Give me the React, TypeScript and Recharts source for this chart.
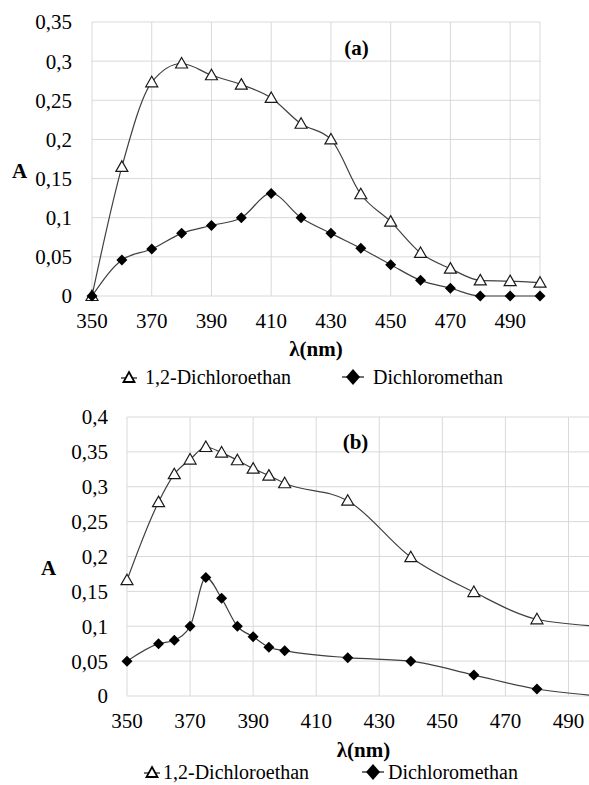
import { LineChart, Line, XAxis, YAxis, CartesianGrid, Legend } from 'recharts'

// (a) sampling every 10 nm
const wavelengthA = [350, 360, 370, 380, 390, 400, 410, 420, 430, 440, 450, 460, 470, 480, 490, 500]
const dceA = [0, 0.165, 0.273, 0.297, 0.282, 0.27, 0.253, 0.22, 0.2, 0.13, 0.095, 0.055, 0.035, 0.02, 0.019, 0.017]
const dcmA = [0, 0.046, 0.06, 0.08, 0.09, 0.1, 0.131, 0.1, 0.08, 0.061, 0.04, 0.02, 0.01, 0, 0, 0]

// (b) denser around the peak
const wavelengthB = [350, 360, 365, 370, 375, 380, 385, 390, 395, 400, 420, 440, 460, 480, 500]
const dceB = [0.166, 0.278, 0.318, 0.339, 0.357, 0.349, 0.338, 0.326, 0.316, 0.305, 0.28, 0.199, 0.149, 0.11, 0.1]
const dcmB = [0.05, 0.075, 0.08, 0.1, 0.17, 0.14, 0.1, 0.085, 0.07, 0.065, 0.055, 0.05, 0.03, 0.01, 0]

const xTicks = [350, 370, 390, 410, 430, 450, 470, 490]
const yTicksA = [0, 0.05, 0.1, 0.15, 0.2, 0.25, 0.3, 0.35]
const yTicksB = [0, 0.05, 0.1, 0.15, 0.2, 0.25, 0.3, 0.35, 0.4]

const DCE = '1,2-Dichloroethan'
const DCM = 'Dichloromethan'

const serif = '"Liberation Serif", Tinos, "Times New Roman", "Nimbus Roman", "DejaVu Serif", serif'
const lineColor = '#404040'
const tick = { fill: '#000', fontSize: 21, fontFamily: serif }
const fmt = (v: number) => String(v).replace('.', ',')

const rows = (xs: number[], a: number[], b: number[]) =>
  xs.map((x, i) => ({ x, [DCE]: a[i], [DCM]: b[i] }))

const Triangle = (p: any) => {
  const { cx, cy, index } = p
  if (cx == null || cy == null) return <g key={index} />
  return (
    <path
      key={index}
      d={`M${cx},${cy - 6} L${cx + 6},${cy + 4.5} L${cx - 6},${cy + 4.5} Z`}
      fill="#fff"
      stroke="#1a1a1a"
      strokeWidth={1.2}
    />
  )
}

const Diamond = (p: any) => {
  const { cx, cy, index } = p
  if (cx == null || cy == null) return <g key={index} />
  return (
    <path
      key={index}
      d={`M${cx},${cy - 5.5} L${cx + 5.5},${cy} L${cx},${cy + 5.5} L${cx - 5.5},${cy} Z`}
      fill="#000"
    />
  )
}

function LegendRow({ h, top, tri, dia }: { h: number; top: number; tri: [number, number]; dia: [number, number] }) {
  const text = { position: 'absolute' as const, top, fontSize: 20, lineHeight: '18px', fontFamily: serif, color: '#000', whiteSpace: 'nowrap' as const }
  return (
    <div style={{ position: 'relative', height: h, width: 560 }}>
      <svg style={{ position: 'absolute', left: tri[0], top: top + 2 }} width={16} height={14}>
        <line x1={0} y1={8} x2={16} y2={8} stroke={lineColor} strokeWidth={1.5} />
        <path d="M8,2 L13.5,12 L2.5,12 Z" fill="#fff" stroke="#000" strokeWidth={1.8} />
      </svg>
      <span style={{ ...text, left: tri[1] }}>{DCE}</span>
      <svg style={{ position: 'absolute', left: dia[0], top: top - 1 }} width={22} height={20}>
        <line x1={0} y1={10} x2={22} y2={10} stroke={lineColor} strokeWidth={1.5} />
        <path d="M11,2 L18,10 L11,18 L4,10 Z" fill="#000" />
      </svg>
      <span style={{ ...text, left: dia[1] }}>{DCM}</span>
    </div>
  )
}

const bold = { fill: '#000', fontSize: 21, fontWeight: 700, fontFamily: serif }

export default function App() {
  const dataA = rows(wavelengthA, dceA, dcmA)
  const dataB = rows(wavelengthB, dceB, dcmB)
  const title = { position: 'absolute' as const, width: 100, textAlign: 'center' as const, fontFamily: serif, fontWeight: 700, fontSize: 21, lineHeight: '24px' }

  return (
    <div style={{ position: 'absolute', top: 0, left: 0, width: 589, height: 785, overflow: 'hidden', background: '#fff' }}>
      <div style={{ position: 'absolute', top: 0, left: 0 }}>
        <LineChart width={589} height={390} data={dataA} margin={{ top: 22, right: 49, left: 0, bottom: 0 }}>
          <CartesianGrid stroke="#d9d9d9" strokeWidth={1} />
          <XAxis
            dataKey="x" type="number" domain={[350, 500]} ticks={xTicks}
            axisLine={false} tickLine={false} tickSize={0} tickMargin={17} tick={tick} height={62}
            label={{ value: 'λ(nm)', position: 'insideBottom', offset: 2, style: bold }}
          />
          <YAxis
            domain={[0, 0.35]} ticks={yTicksA} tickFormatter={fmt}
            axisLine={false} tickLine={false} tickSize={0} tickMargin={20} tick={tick} width={92}
            label={{ value: 'A', position: 'insideLeft', offset: 12, dy: 12, style: bold }}
          />
          <Legend verticalAlign="bottom" content={() => <LegendRow h={32} top={10} tri={[121, 145]} dia={[342, 373]} />} />
          <Line dataKey={DCE} type="monotone" stroke={lineColor} strokeWidth={1.2} dot={Triangle} activeDot={false} isAnimationActive={false} />
          <Line dataKey={DCM} type="monotone" stroke={lineColor} strokeWidth={1.2} dot={Diamond} activeDot={false} isAnimationActive={false} />
        </LineChart>
      </div>
      <div style={{ ...title, left: 306.5, top: 36 }}>(a)</div>

      <div style={{ position: 'absolute', top: 390, left: 0 }}>
        <LineChart width={620} height={394} data={dataB} margin={{ top: 27, right: 20, left: 0, bottom: 0 }}>
          <CartesianGrid stroke="#d9d9d9" strokeWidth={1} />
          <XAxis
            dataKey="x" type="number" domain={[350, 500]} ticks={xTicks}
            axisLine={false} tickLine={false} tickSize={0} tickMargin={17} tick={tick} height={64}
            label={{ value: 'λ(nm)', position: 'insideBottom', offset: 3, style: bold }}
          />
          <YAxis
            domain={[0, 0.4]} ticks={yTicksB} tickFormatter={fmt}
            axisLine={false} tickLine={false} tickSize={0} tickMargin={19} tick={tick} width={127}
            label={{ value: 'A', position: 'insideLeft', offset: 41, dy: 11, style: bold }}
          />
          <Legend verticalAlign="bottom" content={() => <LegendRow h={24} top={3} tri={[144, 163]} dia={[362, 388]} />} />
          <Line dataKey={DCE} type="monotone" stroke={lineColor} strokeWidth={1.2} dot={Triangle} activeDot={false} isAnimationActive={false} />
          <Line dataKey={DCM} type="monotone" stroke={lineColor} strokeWidth={1.2} dot={Diamond} activeDot={false} isAnimationActive={false} />
        </LineChart>
      </div>
      <div style={{ ...title, left: 305.5, top: 430 }}>(b)</div>
    </div>
  )
}
